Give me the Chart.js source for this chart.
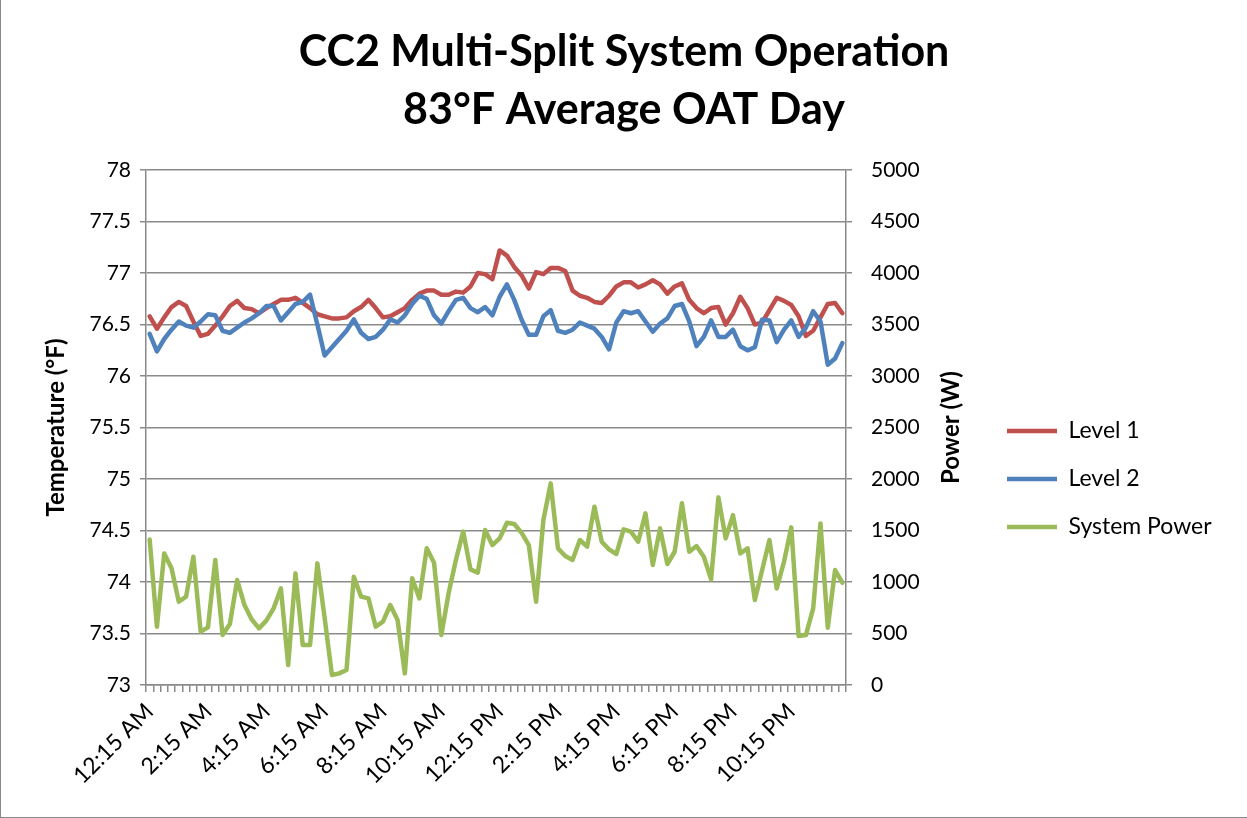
<!DOCTYPE html>
<html>
<head>
<meta charset="utf-8">
<title>CC2 Multi-Split System Operation</title>
<script src="https://cdn.jsdelivr.net/npm/chart.js@4.4.1/dist/chart.umd.min.js"></script>
<style>
  html, body { margin: 0; padding: 0; background: #fff; }
  #wrap {
    width: 1247px; height: 818px; box-sizing: border-box;
    border-left: 1px solid #8a8a8a; border-bottom: 1px solid #8a8a8a;
  }
  canvas { display: block; }
</style>
</head>
<body>
<div id="wrap"><canvas id="chart" width="1246" height="817"></canvas></div>
<script>
// ===== Data (15-minute readings, 12:15 AM .. 12:00 AM) =====
const seriesNames = ['Level 1', 'Level 2', 'System Power'];

const xTickLabels = ['12:15 AM', '2:15 AM', '4:15 AM', '6:15 AM', '8:15 AM', '10:15 AM',
  '12:15 PM', '2:15 PM', '4:15 PM', '6:15 PM', '8:15 PM', '10:15 PM'];

const tempTicks = { min: 73, max: 78, step: 0.5 };
const powerTicks = { min: 0, max: 5000, step: 500 };

const level1 = [
  76.58, 76.46, 76.57, 76.67, 76.72, 76.68, 76.53, 76.39, 76.41, 76.49, 76.58, 76.68,
  76.73, 76.66, 76.65, 76.61, 76.66, 76.70, 76.74, 76.74, 76.76, 76.71, 76.66, 76.60,
  76.58, 76.56, 76.56, 76.57, 76.63, 76.67, 76.74, 76.66, 76.57, 76.58, 76.62, 76.66,
  76.74, 76.80, 76.83, 76.83, 76.79, 76.79, 76.82, 76.81, 76.87, 77.00, 76.99, 76.94,
  77.22, 77.17, 77.06, 76.98, 76.85, 77.01, 76.99, 77.05, 77.05, 77.02, 76.83, 76.78,
  76.76, 76.72, 76.71, 76.78, 76.87, 76.91, 76.91, 76.86, 76.89, 76.93, 76.89, 76.80,
  76.87, 76.90, 76.74, 76.66, 76.61, 76.66, 76.67, 76.50, 76.61, 76.77, 76.66, 76.50,
  76.52, 76.64, 76.76, 76.73, 76.69, 76.58, 76.39, 76.44, 76.57, 76.70, 76.71, 76.61
];

const level2 = [
  76.41, 76.24, 76.36, 76.45, 76.53, 76.49, 76.47, 76.53, 76.60, 76.59, 76.44, 76.42,
  76.47, 76.52, 76.56, 76.61, 76.68, 76.68, 76.54, 76.62, 76.70, 76.72, 76.79, 76.50,
  76.20, 76.28, 76.36, 76.44, 76.55, 76.42, 76.36, 76.38, 76.45, 76.55, 76.52, 76.59,
  76.70, 76.78, 76.75, 76.59, 76.51, 76.63, 76.74, 76.76, 76.66, 76.62, 76.67, 76.59,
  76.77, 76.89, 76.74, 76.55, 76.40, 76.40, 76.58, 76.64, 76.44, 76.42, 76.45, 76.52,
  76.49, 76.46, 76.38, 76.26, 76.52, 76.63, 76.61, 76.63, 76.53, 76.43, 76.51, 76.56,
  76.68, 76.70, 76.53, 76.29, 76.38, 76.54, 76.38, 76.38, 76.45, 76.29, 76.25, 76.28,
  76.55, 76.54, 76.33, 76.45, 76.54, 76.38, 76.47, 76.63, 76.53, 76.11, 76.17, 76.32
];

const systemPower = [
  1414, 566, 1278, 1133, 809, 858, 1246, 518, 560, 1214, 485, 592,
  1019, 777, 637, 550, 625, 744, 938, 194, 1084, 388, 388, 1181,
  650, 97, 113, 146, 1052, 858, 841, 566, 615, 777, 631, 113,
  1036, 841, 1327, 1188, 485, 890, 1214, 1489, 1123, 1091, 1505, 1359,
  1424, 1576, 1563, 1479, 1359, 809, 1602, 1958, 1327, 1252, 1214, 1408,
  1343, 1731, 1391, 1317, 1272, 1511, 1489, 1391, 1667, 1165, 1521, 1175,
  1294, 1764, 1294, 1349, 1246, 1026, 1822, 1424, 1650, 1278, 1327, 825,
  1116, 1408, 938, 1197, 1531, 476, 485, 744, 1569, 557, 1116, 993
];

// category labels: one per 15 minutes
const timeLabels = [];
for (let i = 1; i <= level1.length; i++) {
  const mins = i * 15;
  const h = Math.floor(mins / 60) % 24;
  const m = mins % 60;
  const h12 = h % 12 === 0 ? 12 : h % 12;
  timeLabels.push(h12 + ':' + String(m).padStart(2, '0') + ' ' + (h < 12 ? 'AM' : 'PM'));
}

// ===== Layout =====
const FONT = 'Lato';
const FS = 21;          // tick labels
const LEG_FS = 23;      // legend
const AX_FS = 24;       // axis titles
const gridColor = '#8a8a8a';
const canvasW = 1246;
const plotLeft = 145, plotRight = 845;
const rightAxisW = 136;
const legendPad = 25, legendLine = 50;

const mctx = document.createElement('canvas').getContext('2d');
mctx.font = LEG_FS + 'px ' + FONT;
const legendTextW = Math.max(...seriesNames.map(n => mctx.measureText(n).width));
const legendW = legendPad + legendLine + LEG_FS / 2 + legendTextW + 10;
const sidePad = Math.max(0, canvasW - plotRight - rightAxisW - legendW);

Chart.defaults.font.family = FONT;
Chart.defaults.color = '#000';

// secondary axis title reads bottom-to-top like the primary one
const powerTitle = {
  id: 'powerTitle',
  afterDraw(chart) {
    const s = chart.scales.yP;
    const ctx = chart.ctx;
    ctx.save();
    ctx.translate(s.right - 31, (s.top + s.bottom) / 2);
    ctx.rotate(-Math.PI / 2);
    ctx.font = 'bold ' + AX_FS + 'px ' + FONT;
    ctx.fillStyle = '#000';
    ctx.textAlign = 'center';
    ctx.textBaseline = 'middle';
    ctx.fillText('Power (W)', 0, 0);
    ctx.restore();
  }
};

function lineSeries(label, data, axis, color, order) {
  return {
    label: label, data: data, yAxisID: axis,
    borderColor: color, backgroundColor: color,
    borderWidth: 4.5, pointBorderWidth: 4.5, pointRadius: 0,
    tension: 0, borderJoinStyle: 'round', borderCapStyle: 'round',
    order: order
  };
}

new Chart(document.getElementById('chart'), {
  type: 'line',
  data: {
    labels: timeLabels,
    datasets: [
      lineSeries(seriesNames[0], level1, 'yT', '#C0504D', 3),
      lineSeries(seriesNames[1], level2, 'yT', '#4F81BD', 2),
      lineSeries(seriesNames[2], systemPower, 'yP', '#9BBB59', 1)
    ]
  },
  options: {
    responsive: false,
    animation: false,
    layout: { padding: { left: sidePad, right: sidePad, top: 0, bottom: 0 } },
    plugins: {
      tooltip: { enabled: false },
      title: {
        display: true,
        text: ['CC2 Multi-Split System Operation', '83°F Average OAT Day'],
        font: { size: 43, weight: 'bold', lineHeight: 1.35 },
        color: '#000',
        padding: { top: 23, bottom: 31 }
      },
      legend: {
        position: 'right',
        maxWidth: 400,
        title: { display: true, text: ' ', font: { size: 12, lineHeight: 1 }, padding: { top: 0, bottom: 129 } },
        labels: {
          usePointStyle: true,
          pointStyle: 'line',
          pointStyleWidth: legendLine,
          padding: legendPad,
          font: { size: LEG_FS },
          color: '#000',
          sort: (a, b) => a.datasetIndex - b.datasetIndex
        }
      }
    },
    scales: {
      x: {
        type: 'category',
        offset: true,
        grid: { drawOnChartArea: false, drawTicks: true, tickLength: 7, offset: true, color: gridColor, lineWidth: 1.5 },
        border: { color: gridColor, width: 1.5 },
        ticks: {
          autoSkip: false,
          maxRotation: 45,
          minRotation: 45,
          padding: 6,
          font: { size: 23 },
          color: '#000',
          callback: function(value) {
            const lbl = this.getLabelForValue(value);
            return xTickLabels.includes(lbl) ? lbl : '';
          }
        },
        afterFit: s => { s.height = 817 - 685; }
      },
      yT: {
        position: 'left',
        min: tempTicks.min,
        max: tempTicks.max,
        ticks: { stepSize: tempTicks.step, padding: 9, font: { size: FS }, color: '#000', callback: v => String(v) },
        grid: { color: gridColor, lineWidth: 1.5, tickLength: 6 },
        border: { color: gridColor, width: 1.5 },
        title: {
          display: true,
          text: 'Temperature (°F)',
          font: { size: AX_FS, weight: 'bold' },
          color: '#000',
          padding: { top: 55 - sidePad - AX_FS * 0.6, bottom: 0 }
        },
        afterFit: s => { s.width = plotLeft - sidePad; }
      },
      yP: {
        position: 'right',
        min: powerTicks.min,
        max: powerTicks.max,
        ticks: { stepSize: powerTicks.step, padding: 19, font: { size: FS }, color: '#000', callback: v => String(v) },
        grid: { drawOnChartArea: false, color: gridColor, lineWidth: 1.5, tickLength: 6 },
        border: { color: gridColor, width: 1.5 },
        afterFit: s => { s.width = rightAxisW; }
      }
    }
  },
  plugins: [powerTitle]
});
</script>
</body>
</html>
